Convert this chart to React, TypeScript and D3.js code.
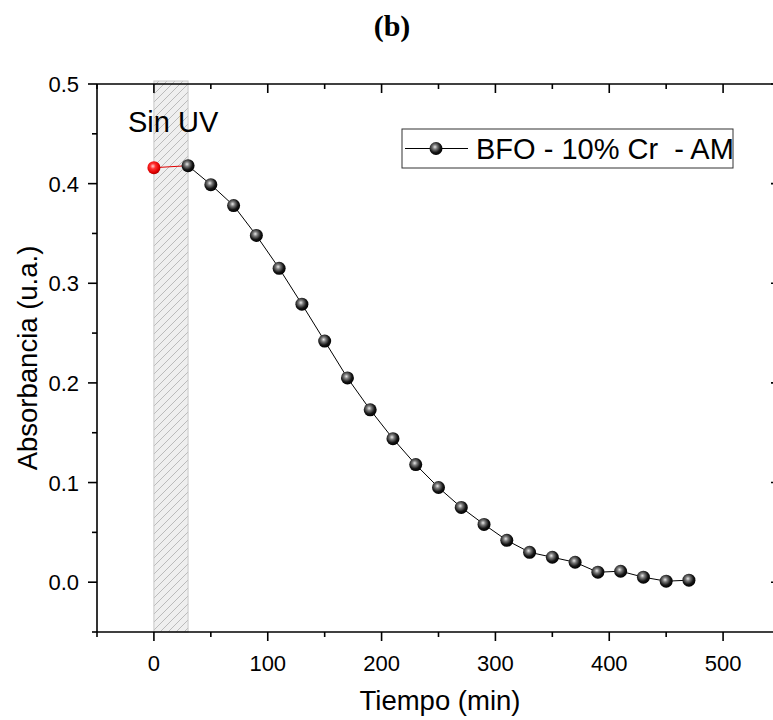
import React from "react";
import * as d3 from "d3";

const timeRed = [0];
const absRed = [0.416];
const timeMin = [30, 50, 70, 90, 110, 130, 150, 170, 190, 210, 230, 250, 270, 290, 310, 330, 350, 370, 390, 410, 430, 450, 470];
const absorb = [0.418, 0.399, 0.378, 0.348, 0.315, 0.279, 0.242, 0.205, 0.173, 0.144, 0.118, 0.095, 0.075, 0.058, 0.042, 0.030, 0.025, 0.020, 0.010, 0.011, 0.005, 0.001, 0.002];
const xMajor = [0, 100, 200, 300, 400, 500];
const xMinor = [-50, 50, 150, 250, 350, 450, 550];
const yMajor = [0.0, 0.1, 0.2, 0.3, 0.4, 0.5];
const yMinor = [-0.05, 0.05, 0.15, 0.25, 0.35, 0.45];
const uvBand = [0, 30];
const legendLabel = "BFO - 10% Cr  - AM";

const FONT = "Arial, 'Liberation Sans', Helvetica, sans-serif";

export default function App() {
  const W = 773, H = 720;
  const left = 97, right = 780, top = 84, bottom = 632;
  const x = d3.scaleLinear().domain([-50, 550]).range([left, right]);
  const y = d3.scaleLinear().domain([-0.05, 0.5]).range([bottom, top]);
  const line = d3.line<number>().x((_, i) => x(timeMin[i])).y((d) => y(d));
  const r = 6.5;
  const pts = timeMin.map((t, i) => ({ t, v: absorb[i] }));

  return (
    <svg width={W} height={H} style={{ position: "absolute", left: 0, top: 0, overflow: "hidden" }}>
      <defs>
        <pattern id="hatch" patternUnits="userSpaceOnUse" width="8" height="8">
          <rect width="8" height="8" fill="#efefef" />
          <path d="M-2,2 L2,-2 M0,8 L8,0 M6,10 L10,6" stroke="#b5b5b5" strokeWidth="0.9" />
        </pattern>
        <radialGradient id="ballK" cx="0.42" cy="0.4" r="0.6" fx="0.42" fy="0.38">
          <stop offset="0" stopColor="#e8e8e8" />
          <stop offset="0.3" stopColor="#7a7a7a" />
          <stop offset="0.7" stopColor="#161616" />
          <stop offset="1" stopColor="#000" />
        </radialGradient>
        <radialGradient id="ballR" cx="0.42" cy="0.4" r="0.6" fx="0.42" fy="0.38">
          <stop offset="0" stopColor="#ffd0d0" />
          <stop offset="0.35" stopColor="#ff3030" />
          <stop offset="0.8" stopColor="#e00000" />
          <stop offset="1" stopColor="#b00000" />
        </radialGradient>
      </defs>
      <rect width={W} height={H} fill="#fff" />

      {/* title */}
      <text x={392} y={36} textAnchor="middle" fontFamily="'Liberation Serif', 'Times New Roman', serif" fontWeight="bold" fontSize={30}>(b)</text>

      {/* UV band */}
      <rect x={x(uvBand[0])} y={top - 3} width={x(uvBand[1]) - x(uvBand[0])} height={bottom - top + 3}
        fill="url(#hatch)" stroke="#c8c8c8" strokeWidth={1} />

      {/* frame */}
      <g stroke="#000" strokeWidth={1.6} fill="none">
        <line x1={left} x2={right} y1={top} y2={top} />
        <line x1={left} x2={right} y1={bottom} y2={bottom} />
        <line x1={left} x2={left} y1={top} y2={bottom} />
        <line x1={right} x2={right} y1={top} y2={bottom} />
      </g>
      {/* ticks */}
      <g stroke="#000" strokeWidth={1.6}>
        {xMajor.map((t) => (
          <g key={"xM" + t}>
            <line x1={x(t)} x2={x(t)} y1={bottom} y2={bottom + 9} />
            <line x1={x(t)} x2={x(t)} y1={top} y2={top + 9} />
          </g>
        ))}
        {xMinor.map((t) => (
          <g key={"xm" + t}>
            <line x1={x(t)} x2={x(t)} y1={bottom} y2={bottom + 5} />
            <line x1={x(t)} x2={x(t)} y1={top} y2={top + 5} />
          </g>
        ))}
        {yMajor.map((t) => (
          <g key={"yM" + t}>
            <line x1={left - 9} x2={left} y1={y(t)} y2={y(t)} />
            <line x1={right - 9} x2={right} y1={y(t)} y2={y(t)} />
          </g>
        ))}
        {yMinor.map((t) => (
          <g key={"ym" + t}>
            <line x1={left - 5} x2={left} y1={y(t)} y2={y(t)} />
            <line x1={right - 5} x2={right} y1={y(t)} y2={y(t)} />
          </g>
        ))}
      </g>
      <g fontFamily={FONT} fontSize={22} fill="#000">
        {xMajor.map((t) => (
          <text key={"xl" + t} x={x(t)} y={671} textAnchor="middle">{d3.format("d")(t)}</text>
        ))}
        {yMajor.map((t) => (
          <text key={"yl" + t} x={79} y={y(t) + 8} textAnchor="end">{d3.format(".1f")(t)}</text>
        ))}
      </g>
      <text x={440} y={710} textAnchor="middle" fontFamily={FONT} fontSize={27.5}>Tiempo (min)</text>
      <text transform={`translate(37,${y(0.225)}) rotate(-90)`} textAnchor="middle" fontFamily={FONT} fontSize={27.5}>Absorbancia (u.a.)</text>

      <text x={128} y={132} fontFamily={FONT} fontSize={29}>Sin UV</text>

      {/* data */}
      <line x1={x(timeRed[0])} y1={y(absRed[0])} x2={x(timeMin[0])} y2={y(absorb[0])} stroke="#e00000" strokeWidth={1} />
      <path d={line(absorb) || ""} fill="none" stroke="#000" strokeWidth={1} />
      {pts.map((p) => (
        <circle key={p.t} cx={x(p.t)} cy={y(p.v)} r={r} fill="url(#ballK)" />
      ))}
      {timeRed.map((t, i) => (
        <circle key={"r" + t} cx={x(t)} cy={y(absRed[i])} r={r} fill="url(#ballR)" />
      ))}

      {/* legend */}
      <rect x={402} y={129} width={331} height={39} fill="#fff" stroke="#333" strokeWidth={1} />
      <line x1={405} x2={468} y1={148.5} y2={148.5} stroke="#000" strokeWidth={1} />
      <circle cx={436} cy={148.5} r={r} fill="url(#ballK)" />
      <text x={476} y={159} fontFamily={FONT} fontSize={29} style={{ whiteSpace: "pre" }}>{legendLabel}</text>
    </svg>
  );
}
